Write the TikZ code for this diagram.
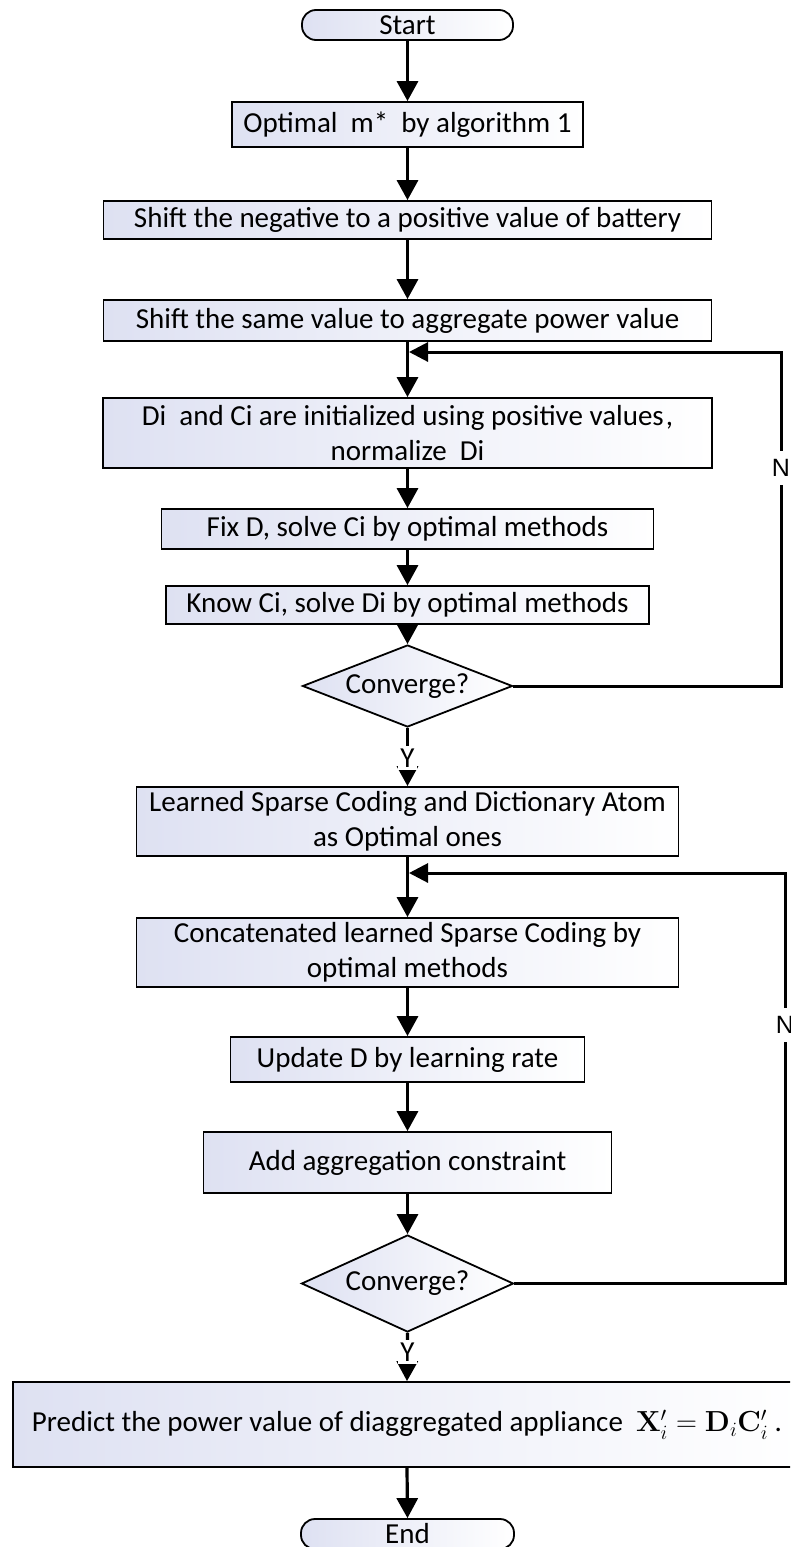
\RequirePackage{fix-cm}
\documentclass[tikz,border=0pt]{standalone}
\usepackage[no-math]{fontspec}
\setmainfont{Carlito}
\newfontfamily\arialf{Liberation Sans}
\usetikzlibrary{arrows.meta,shapes.geometric}
\definecolor{shadeL}{RGB}{222,225,242}
\begin{document}
\begin{tikzpicture}[x=1pt,y=-1pt,
  font=\fontsize{29pt}{35pt}\selectfont,
  box/.style={draw, line width=1.8pt, left color=shadeL, right color=white, inner sep=0pt, align=center},
  term/.style={box, rounded corners=14pt},
  dec/.style={draw, diamond, line width=1.8pt, left color=shadeL, right color=white, inner sep=0pt},
  arr/.style={line width=3.2pt, -{Triangle[length=20pt,width=21pt]}},
  lparr/.style={line width=3pt, -{Triangle[length=19pt,width=19pt]}},
  ylab/.style={fill=white, inner xsep=2pt, inner ysep=3pt},
  nlab/.style={fill=white, inner xsep=1pt, inner ysep=8pt, font=\arialf\fontsize{25pt}{25pt}\selectfont}]
\useasboundingbox (0,0) rectangle (790,1547);
\fill[white] (0,0) rectangle (790,1547);
\clip (0,0) rectangle (790,1547);

% nodes
\node[term, minimum width=211pt, minimum height=30pt] (start) at (407.5,25) {Start};
\node[box, minimum width=351pt, minimum height=45pt] (b1) at (407.5,124.5) {Optimal\ \ m*\ \ by algorithm 1};
\node[box, minimum width=608pt, minimum height=38pt] (b2) at (407.5,220) {Shift the negative to a positive value of battery};
\node[box, minimum width=608pt, minimum height=41pt] (b3) at (407.5,320.5) {Shift the same value to aggregate power value};
\node[box, minimum width=609pt, minimum height=70pt] (b4) at (407.5,433) {Di\ \ and Ci are initialized using positive values\kern2pt,\\normalize\ \ Di};
\node[box, minimum width=492pt, minimum height=40pt] (b5) at (407.5,529) {Fix D, solve Ci by optimal methods};
\node[box, minimum width=483pt, minimum height=38pt] (b6) at (407.5,605) {Know Ci, solve Di by optimal methods};
\node[dec, aspect=2.56, minimum width=210pt, minimum height=82pt] (d1) at (407.5,686) {Converge?};
\node[box, minimum width=542pt, minimum height=69pt] (b7) at (407.5,821.5) {Learned Sparse Coding and Dictionary Atom\\as Optimal ones};
\node[box, minimum width=542pt, minimum height=69pt] (b8) at (407.5,952.5) {Concatenated learned Sparse Coding by\\optimal methods};
\node[box, minimum width=354pt, minimum height=45pt] (b9) at (407.5,1059.5) {Update D by learning rate};
\node[box, minimum width=408pt, minimum height=61pt] (b10) at (407.5,1162.5) {Add aggregation constraint};
\node[dec, aspect=2.2, minimum width=212pt, minimum height=97pt] (d2) at (407.5,1283.5) {Converge?};
\node[box, minimum width=788pt, minimum height=85pt] (b11) at (407,1424.5) {Predict the power value of diaggregated appliance\ \ $\mathbf{X}_i^{\prime}=\mathbf{D}_i\mathbf{C}_i^{\prime}$\ .};
\node[term, minimum width=213pt, minimum height=30pt] (end) at (407.5,1534) {End};

% straight connectors
\draw[arr] (start.south) -- (b1.north);
\draw[arr] (b1.south) -- (b2.north);
\draw[arr] (b2.south) -- (b3.north);
\draw[arr] (b3.south) -- (b4.north);
\draw[arr] (b4.south) -- (b5.north);
\draw[arr] (b5.south) -- (b6.north);
\draw[arr] (b6.south) -- (d1.north);
\draw[arr] (d1.south) -- (b7.north);
\draw[arr] (b7.south) -- (b8.north);
\draw[arr] (b8.south) -- (b9.north);
\draw[arr] (b9.south) -- (b10.north);
\draw[arr] (b10.south) -- (d2.north);
\draw[arr] (d2.south) -- (b11.north);
\draw[arr] (b11.south) -- (end.north);

% loop 1
\coordinate (l1a) at (781,686);
\coordinate (l1b) at (781,352);
\coordinate (j1) at (409,352);
\draw[lparr] (d1.east) -- (l1a) -- (l1b) -- (j1);
\node[nlab] (n1) at (781,468) {N};

% loop 2
\coordinate (l2a) at (785,1283.5);
\coordinate (l2b) at (785,873);
\coordinate (j2) at (409,873);
\draw[lparr] (d2.east) -- (l2a) -- (l2b) -- (j2);
\node[nlab] (n2) at (785,1025) {N};

% Y labels
\node[ylab] (y1) at (407.5,758) {Y};
\node[ylab] (y2) at (407.5,1352) {Y};
\end{tikzpicture}
\end{document}
